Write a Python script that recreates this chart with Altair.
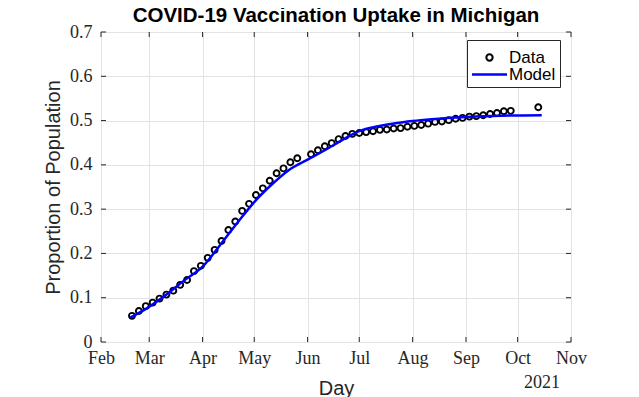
import altair as alt
import pandas as pd

# ---------------- data ----------------
data_dates = [
    "2021-02-19", "2021-02-23", "2021-02-27", "2021-03-03", "2021-03-07", "2021-03-11",
    "2021-03-15", "2021-03-19", "2021-03-23", "2021-03-27", "2021-03-31", "2021-04-04",
    "2021-04-08", "2021-04-12", "2021-04-16", "2021-04-20", "2021-04-24", "2021-04-28",
    "2021-05-02", "2021-05-06", "2021-05-10", "2021-05-14", "2021-05-18", "2021-05-22",
    "2021-05-26", "2021-06-03", "2021-06-07", "2021-06-11", "2021-06-15", "2021-06-19",
    "2021-06-23", "2021-06-27", "2021-07-01", "2021-07-05", "2021-07-09", "2021-07-13",
    "2021-07-17", "2021-07-21", "2021-07-25", "2021-07-29", "2021-08-02", "2021-08-06",
    "2021-08-10", "2021-08-14", "2021-08-18", "2021-08-22", "2021-08-26", "2021-08-30",
    "2021-09-03", "2021-09-07", "2021-09-11", "2021-09-15", "2021-09-19", "2021-09-23",
    "2021-09-27", "2021-10-13",
]
data_values = [
    0.059, 0.070, 0.081, 0.089, 0.098, 0.107,
    0.116, 0.129, 0.140, 0.160, 0.172, 0.190,
    0.208, 0.228, 0.253, 0.272, 0.296, 0.312,
    0.332, 0.347, 0.364, 0.381, 0.392, 0.406,
    0.415, 0.424, 0.433, 0.442, 0.449, 0.458,
    0.465, 0.470, 0.472, 0.474, 0.476, 0.479,
    0.480, 0.482, 0.483, 0.486, 0.488, 0.490,
    0.493, 0.497, 0.498, 0.501, 0.504, 0.506,
    0.509, 0.510, 0.512, 0.515, 0.517, 0.521,
    0.522, 0.530,
]

model_dates = [
    "2021-02-18", "2021-02-28", "2021-03-11", "2021-03-21", "2021-04-01", "2021-04-11",
    "2021-04-21", "2021-05-01", "2021-05-11", "2021-05-21", "2021-06-01", "2021-06-11",
    "2021-06-21", "2021-07-01", "2021-07-12", "2021-07-22", "2021-08-01", "2021-08-12",
    "2021-09-01", "2021-09-21", "2021-10-15",
]
model_values = [
    0.055, 0.077, 0.107, 0.138, 0.170, 0.218,
    0.268, 0.316, 0.355, 0.388, 0.412, 0.433,
    0.456, 0.476, 0.487, 0.494, 0.499, 0.503,
    0.508, 0.511, 0.512,
]

month_ticks = ["2021-02-01", "2021-03-01", "2021-04-01", "2021-05-01", "2021-06-01",
               "2021-07-01", "2021-08-01", "2021-09-01", "2021-10-01", "2021-11-01"]
y_ticks = [0.0, 0.1, 0.2, 0.3, 0.4, 0.5, 0.6, 0.7]
series_names = ["Data", "Model"]
series_colors = ["black", "#0000ff"]
title_text = "COVID-19 Vaccination Uptake in Michigan"
x_title = "Day"
y_title = "Proportion of Population"
year_label = ["2021"]

# ---------------- layout ----------------
W, H = 470, 310
INK = "#262626"
SERIF = "Liberation Serif"
SANS = "Liberation Sans"

df_data = pd.DataFrame({"date": data_dates, "value": data_values, "series": series_names[0]})
df_model = pd.DataFrame({"date": model_dates, "value": model_values, "series": series_names[1]})
df_xt = pd.DataFrame({"date": month_ticks})
df_yt = pd.DataFrame({"value": y_ticks})
df_year = pd.DataFrame({"label": year_label})


def utc_dt(s):
    t = pd.Timestamp(s)
    return alt.DateTime(year=t.year, month=t.month, date=t.day, utc=True)


x_scale = alt.Scale(type="utc", domain=[utc_dt(month_ticks[0]), utc_dt(month_ticks[-1])], nice=False)
y_scale = alt.Scale(domain=[y_ticks[0], y_ticks[-1]], nice=False, zero=False)

x_axis = alt.Axis(
    values=[utc_dt(s) for s in month_ticks], format="%b", tickSize=0, domain=False,
    labelFont=SERIF, labelFontSize=18, labelColor=INK, labelPadding=7, labelFlush=False,
    grid=True, gridColor="#e3e3e3", gridWidth=1,
    titleFont=SANS, titleFontSize=20, titleFontWeight="normal", titleColor=INK, titlePadding=11,
    labelOverlap=False,
)
y_axis = alt.Axis(
    values=y_ticks, labelExpr="datum.value == 0 ? '0' : format(datum.value, '.1f')",
    tickSize=0, domain=False,
    labelFont=SERIF, labelFontSize=18, labelColor=INK, labelPadding=9,
    grid=True, gridColor="#e3e3e3", gridWidth=1,
    titleFont=SANS, titleFontSize=20, titleFontWeight="normal", titleColor=INK, titlePadding=6,
)

X = alt.X("date:T", scale=x_scale, axis=x_axis, title=x_title)
Y = alt.Y("value:Q", scale=y_scale, axis=y_axis, title=y_title)

legend = alt.Legend(
    title=" ", titleFontSize=5, titlePadding=0,
    orient="none", legendX=366, legendY=8,
    fillColor="white", strokeColor=INK, padding=4, cornerRadius=0,
    labelFont=SANS, labelFontSize=17, labelColor="black",
    labelOffset=11, symbolOffset=10, rowPadding=-1,
    symbolSize=alt.ExprRef("datum.value === 'Model' ? 1225 : 40"),
    symbolStrokeWidth=alt.ExprRef("datum.value === 'Model' ? 2.5 : 2"),
)
color_scale = alt.Scale(domain=series_names, range=series_colors)
shape_scale = alt.Scale(domain=series_names, range=["circle", "stroke"])

tick_bottom = alt.Chart(df_xt).mark_rule(color=INK, strokeWidth=1).encode(
    x=X, y=alt.value(H), y2=alt.value(H - 5))
tick_top = alt.Chart(df_xt).mark_rule(color=INK, strokeWidth=1).encode(
    x=X, y=alt.value(0), y2=alt.value(5))
tick_left = alt.Chart(df_yt).mark_rule(color=INK, strokeWidth=1).encode(
    y=Y, x=alt.value(0), x2=alt.value(5))
tick_right = alt.Chart(df_yt).mark_rule(color=INK, strokeWidth=1).encode(
    y=Y, x=alt.value(W - 5), x2=alt.value(W))

points = alt.Chart(df_data).mark_point(filled=False, size=36, strokeWidth=1.9, opacity=1).encode(
    x=X, y=Y,
    color=alt.Color("series:N", scale=color_scale, legend=legend),
    shape=alt.Shape("series:N", scale=shape_scale, legend=legend),
)
model = alt.Chart(df_model).mark_line(strokeWidth=2.5, interpolate="monotone").encode(
    x=X, y=Y,
    color=alt.Color("series:N", scale=color_scale, legend=legend),
)
year = alt.Chart(df_year).mark_text(font=SERIF, fontSize=18, color=INK, align="center",
                                     baseline="alphabetic").encode(
    text="label:N", x=alt.value(441), y=alt.value(356))

chart = alt.layer(tick_bottom, tick_top, tick_left, tick_right, points, model, year).properties(
    width=W, height=H,
    title=alt.TitleParams(text=title_text, font=SANS, fontSize=20.5, fontWeight="bold",
                          color="black", anchor="middle", offset=-3.5),
    autosize=alt.AutoSizeParams(type="none"),
    padding={"left": 93, "top": 24, "right": 60, "bottom": 55},
).configure_view(stroke=INK, strokeWidth=1).configure(background="white")

chart.save("out.html", embed_options={"renderer": "svg", "actions": False})
